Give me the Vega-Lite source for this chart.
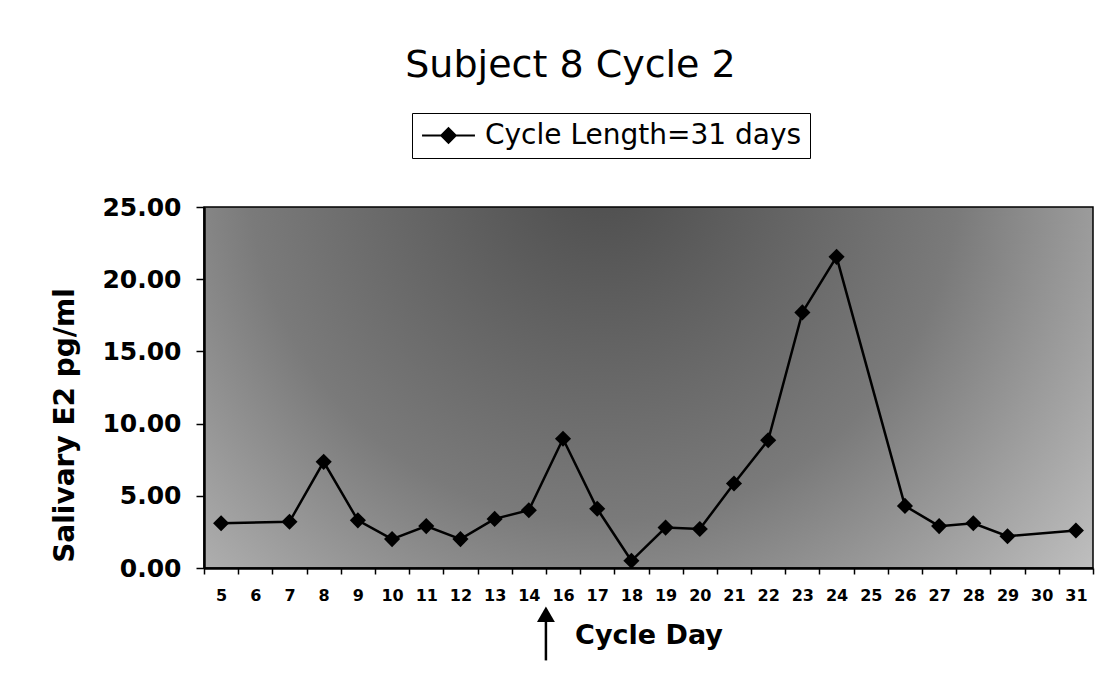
{
  "$schema": "https://vega.github.io/schema/vega-lite/v6.json",
  "autosize": "none",
  "width": 889,
  "height": 361,
  "padding": {"left": 204, "top": 207, "right": 23, "bottom": 117},
  "background": "white",
  "config": {
    "font": "DejaVu Sans",
    "view": {
      "stroke": "black",
      "strokeWidth": 1.5,
      "fill": {"gradient": "radial", "x1": 0.45, "y1": 0.25, "r1": 0, "x2": 0.45, "y2": 0.25, "r2": 0.8,
        "stops": [{"offset": 0, "color": "#4c4c4c"}, {"offset": 0.5, "color": "#7a7a7a"}, {"offset": 1, "color": "#d2d2d2"}]}
    }
  },
  "title": {
    "text": "Subject 8 Cycle 2",
    "fontSize": 38,
    "fontWeight": "normal",
    "font": "DejaVu Sans",
    "color": "black",
    "anchor": "middle",
    "dx": -78,
    "offset": 28
  },
  "datasets": {
    "e2": [
      {"day": "5", "value": 3.1, "series": "Cycle Length=31 days"},
      {"day": "7", "value": 3.2, "series": "Cycle Length=31 days"},
      {"day": "8", "value": 7.35, "series": "Cycle Length=31 days"},
      {"day": "9", "value": 3.3, "series": "Cycle Length=31 days"},
      {"day": "10", "value": 2.0, "series": "Cycle Length=31 days"},
      {"day": "11", "value": 2.9, "series": "Cycle Length=31 days"},
      {"day": "12", "value": 2.0, "series": "Cycle Length=31 days"},
      {"day": "13", "value": 3.4, "series": "Cycle Length=31 days"},
      {"day": "14", "value": 4.0, "series": "Cycle Length=31 days"},
      {"day": "16", "value": 8.95, "series": "Cycle Length=31 days"},
      {"day": "17", "value": 4.1, "series": "Cycle Length=31 days"},
      {"day": "18", "value": 0.5, "series": "Cycle Length=31 days"},
      {"day": "19", "value": 2.8, "series": "Cycle Length=31 days"},
      {"day": "20", "value": 2.7, "series": "Cycle Length=31 days"},
      {"day": "21", "value": 5.85, "series": "Cycle Length=31 days"},
      {"day": "22", "value": 8.85, "series": "Cycle Length=31 days"},
      {"day": "23", "value": 17.7, "series": "Cycle Length=31 days"},
      {"day": "24", "value": 21.55, "series": "Cycle Length=31 days"},
      {"day": "26", "value": 4.3, "series": "Cycle Length=31 days"},
      {"day": "27", "value": 2.9, "series": "Cycle Length=31 days"},
      {"day": "28", "value": 3.1, "series": "Cycle Length=31 days"},
      {"day": "29", "value": 2.2, "series": "Cycle Length=31 days"},
      {"day": "31", "value": 2.6, "series": "Cycle Length=31 days"}
    ],
    "arrow": [
      {"day": "14", "head": -3.2, "shaftTop": -3.6, "shaftBottom": -6.4}
    ]
  },
  "encoding": {
    "x": {
      "field": "day",
      "type": "ordinal",
      "sort": null,
      "scale": {
        "type": "band",
        "domain": ["5","6","7","8","9","10","11","12","13","14","16","17","18","19","20","21","22","23","24","25","26","27","28","29","30","31"],
        "paddingInner": 0,
        "paddingOuter": 0
      },
      "axis": {
        "title": "Cycle Day",
        "titleFont": "DejaVu Sans",
        "titleFontSize": 27,
        "titleFontWeight": "bold",
        "titleColor": "black",
        "titlePadding": 19,
        "labelAngle": 0,
        "labelFont": "DejaVu Sans",
        "labelFontSize": 16,
        "labelFontWeight": "bold",
        "labelColor": "black",
        "labelPadding": 13,
        "tickBand": "extent",
        "tickSize": 6,
        "tickColor": "black",
        "tickWidth": 1.5,
        "domainColor": "black",
        "domainWidth": 2.5,
        "grid": false
      }
    },
    "y": {
      "field": "value",
      "type": "quantitative",
      "scale": {"domain": [0, 25], "nice": false, "zero": true},
      "axis": {
        "title": "Salivary E2 pg/ml",
        "titleFont": "DejaVu Sans",
        "titleFontSize": 28,
        "titleFontWeight": "bold",
        "titleColor": "black",
        "titleBaseline": "alphabetic",
        "titleAlign": "center",
        "titleX": -131,
        "titleY": 218,
        "values": [0, 5, 10, 15, 20, 25],
        "format": ".2f",
        "labelFont": "DejaVu Sans",
        "labelFontSize": 25,
        "labelFontWeight": "bold",
        "labelColor": "black",
        "labelPadding": 15,
        "tickSize": 8,
        "tickColor": "black",
        "tickWidth": 1.5,
        "domainColor": "black",
        "domainWidth": 2.5,
        "grid": false
      }
    }
  },
  "layer": [
    {
      "data": {"name": "e2"},
      "mark": {"type": "line", "color": "black", "strokeWidth": 2.5, "point": {"shape": "diamond", "size": 260, "filled": true, "color": "black"}},
      "encoding": {
        "color": {
          "field": "series",
          "type": "nominal",
          "scale": {"range": ["black"]},
          "legend": {
            "title": null,
            "orient": "none",
            "legendX": 208,
            "legendY": -94,
            "direction": "horizontal",
            "strokeColor": "black",
            "fillColor": "white",
            "padding": 8,
            "labelFont": "DejaVu Sans",
            "labelFontSize": 28,
            "labelColor": "black",
            "labelLimit": 0,
            "symbolOffset": 14,
            "labelOffset": 22,
            "symbolType": "M-2,0L2,0M0,-0.55L0.55,0L0,0.55L-0.55,0Z",
            "symbolSize": 700,
            "symbolFillColor": "black",
            "symbolStrokeColor": "black",
            "symbolStrokeWidth": 2
          }
        }
      }
    },
    {
      "data": {"name": "arrow"},
      "mark": {"type": "rule", "color": "black", "strokeWidth": 2.5, "clip": false},
      "encoding": {
        "x": {"field": "day", "type": "ordinal", "bandPosition": 1},
        "y": {"field": "shaftTop", "type": "quantitative"},
        "y2": {"field": "shaftBottom"}
      }
    },
    {
      "data": {"name": "arrow"},
      "mark": {"type": "point", "shape": "triangle-up", "filled": true, "color": "black", "size": 320, "opacity": 1, "clip": false},
      "encoding": {
        "x": {"field": "day", "type": "ordinal", "bandPosition": 1},
        "y": {"field": "head", "type": "quantitative"}
      }
    }
  ]
}
